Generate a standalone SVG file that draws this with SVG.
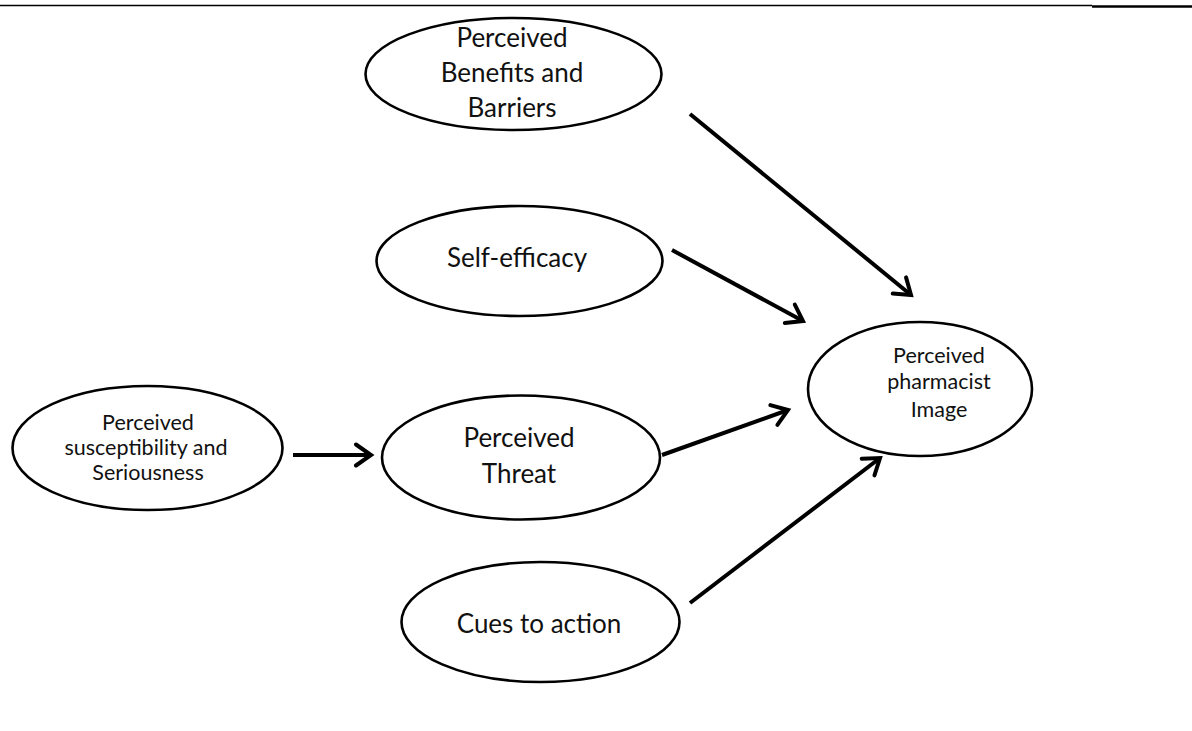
<svg xmlns="http://www.w3.org/2000/svg" width="1192" height="731" viewBox="0 0 1192 731">
<style>
.n{fill:#fff;stroke:#000;stroke-width:2.6}
.t{font-family:Lato,"Open Sans","Liberation Sans",sans-serif;fill:#111;text-anchor:middle}
.L{font-size:26px}
.S{font-size:21.5px}
.c{stroke:#000;stroke-width:4;fill:none;marker-end:url(#ah)}
</style>
<defs>
<marker id="ah" markerUnits="userSpaceOnUse" markerWidth="26" markerHeight="26" viewBox="-21 -13 26 26" refX="0" refY="0" orient="auto">
<path d="M-15,-10.5 L0,0 L-15,10.5" fill="none" stroke="#000" stroke-width="4" stroke-linecap="round" stroke-linejoin="miter"/>
</marker>
</defs>
<rect width="1192" height="731" fill="#fff"/>
<line x1="0" y1="5.5" x2="1092" y2="5.5" stroke="#000" stroke-width="1.4"/>
<line x1="1092" y1="6.5" x2="1192" y2="6.5" stroke="#000" stroke-width="2.4"/>
<g id="connectors">
<line class="c" x1="690" y1="114" x2="911" y2="295"/>
<line class="c" x1="672" y1="250" x2="803" y2="321"/>
<line class="c" x1="293" y1="455" x2="371" y2="455"/>
<line class="c" x1="662" y1="455" x2="788" y2="410"/>
<line class="c" x1="690" y1="603" x2="880" y2="458"/>
</g>
<g id="benefits">
<ellipse class="n" cx="513.5" cy="74" rx="148" ry="56"/>
<text class="t L" x="512" y="47">Perceived</text>
<text class="t L" x="512" y="82">Benefits and</text>
<text class="t L" x="512" y="117">Barriers</text>
</g>
<g id="selfefficacy">
<ellipse class="n" cx="519.5" cy="261" rx="143" ry="55"/>
<text class="t L" x="517" y="267">Self-efficacy</text>
</g>
<g id="susceptibility">
<ellipse class="n" cx="147.5" cy="448" rx="135" ry="62"/>
<text class="t S" x="148" y="430">Perceived</text>
<text class="t S" x="146" y="455">susceptibility and</text>
<text class="t S" x="148" y="480">Seriousness</text>
</g>
<g id="threat">
<ellipse class="n" cx="521" cy="457.5" rx="139" ry="62"/>
<text class="t L" x="519" y="447">Perceived</text>
<text class="t L" x="519" y="483">Threat</text>
</g>
<g id="cues">
<ellipse class="n" cx="540.5" cy="622" rx="139" ry="60"/>
<text class="t L" x="539" y="633">Cues to action</text>
</g>
<g id="image">
<ellipse class="n" cx="920" cy="389" rx="112" ry="67"/>
<text class="t S" x="939" y="363">Perceived</text>
<text class="t S" x="939" y="389">pharmacist</text>
<text class="t S" x="939" y="417">Image</text>
</g>
</svg>
